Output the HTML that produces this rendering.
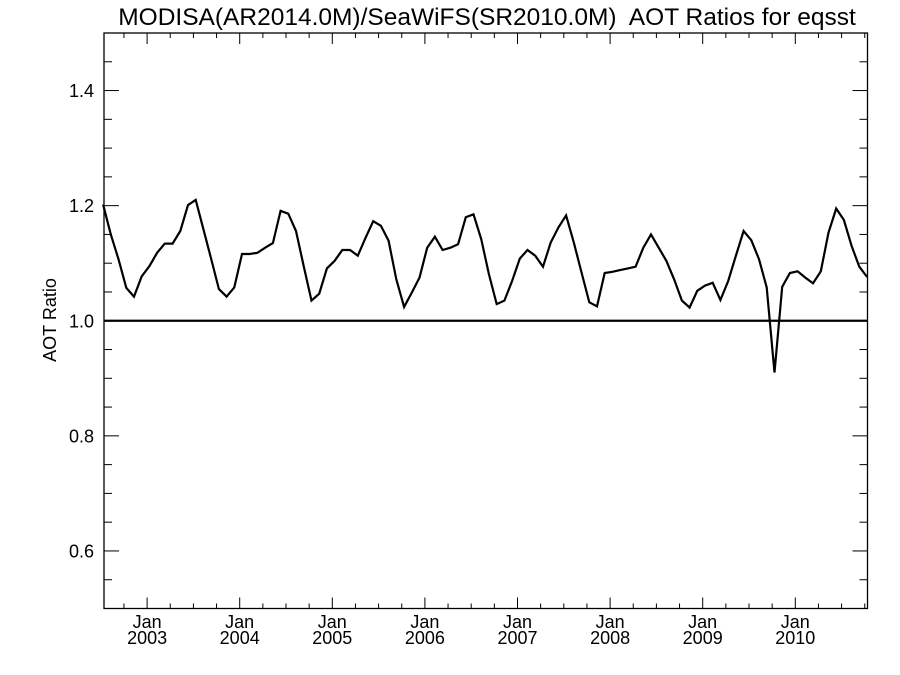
<!DOCTYPE html>
<html><head><meta charset="utf-8"><style>
body{margin:0;background:#fff}
svg{display:block;font-family:"Liberation Sans",Arial,sans-serif}
</style></head><body>
<svg id="chart" width="900" height="675" viewBox="0 0 900 675" xmlns="http://www.w3.org/2000/svg">
<text x="487" y="25" font-size="24.5" text-anchor="middle">MODISA(AR2014.0M)/SeaWiFS(SR2010.0M)&#160; AOT Ratios for eqsst</text>
<text transform="translate(56,320) rotate(-90)" font-size="18" text-anchor="middle">AOT Ratio</text>
<g id="axes"></g>
<g id="marks"></g>
</svg>
<script>
const yTickValues=[0.6,0.8,1.0,1.2,1.4];
const yTickLabels=["0.6","0.8","1.0","1.2","1.4"];
const xTickYears=[2003,2004,2005,2006,2007,2008,2009,2010];
const xTickLabels=["Jan","Jan","Jan","Jan","Jan","Jan","Jan","Jan"];
const referenceValue=1.0;
const ratioValues=[1.202,1.150,1.107,1.057,1.042,1.077,1.095,1.118,1.134,1.134,1.156,1.201,1.210,1.159,1.108,1.055,1.042,1.058,1.116,1.116,1.118,1.127,1.135,1.191,1.186,1.156,1.095,1.035,1.047,1.091,1.104,1.123,1.123,1.113,1.144,1.173,1.165,1.139,1.072,1.024,1.049,1.075,1.127,1.146,1.123,1.127,1.133,1.180,1.185,1.142,1.081,1.029,
1.035,1.069,1.108,1.123,1.113,1.094,1.136,1.162,1.183,1.136,1.084,1.032,1.025,1.083,1.085,1.088,1.091,1.094,1.127,1.150,1.127,1.104,1.072,1.035,1.023,1.052,1.061,1.066,1.036,1.069,1.113,1.156,1.140,1.107,1.058,0.910,1.059,1.083,1.086,1.075,1.065,1.086,1.153,1.195,1.175,1.130,1.094,1.076];
const startMonth=-5.7;
const L=104,R=867.5,T=33,B=608.5;
const yMin=0.5,yMax=1.5;
const monthPx=(795.3-147.1)/84;
function xs(m){return 147.1+m*monthPx;}
function ys(v){return B-(v-yMin)/(yMax-yMin)*(B-T);}
const NS="http://www.w3.org/2000/svg";
function mk(tag,attrs,parent){const e=document.createElementNS(NS,tag);for(const k in attrs)e.setAttribute(k,attrs[k]);parent.appendChild(e);return e;}
const axes=document.getElementById('axes'),marks=document.getElementById('marks');
const frame=mk('rect',{x:L,y:T,width:R-L,height:B-T,fill:'none',stroke:'#000','stroke-width':1.3},axes);


for(let v=0.55;v<1.5;v+=0.05){
  const vv=Math.round(v*100)/100;const major=Math.abs(vv*10-Math.round(vv*10))<1e-6&&Math.round(vv*10)%2===0;
  const len=major?15:8;const y=ys(vv);
  const t1=mk('line',{x1:L,x2:L+len,y1:y,y2:y,stroke:'#000','stroke-width':1},axes);
  
  
  const t2=mk('line',{x1:R,x2:R-len,y1:y,y2:y,stroke:'#000','stroke-width':1},axes);
  
  
}
yTickValues.forEach((v,i)=>{
  const t=mk('text',{x:L-10,y:ys(v)+6.5,'font-size':18,'text-anchor':'end'},axes);t.textContent=yTickLabels[i];
  
  
});
for(let m=-3;m<=93;m+=3){
  const x=xs(m);if(x<L||x>R)continue;const major=(m%12===0);const len=major?11:5;
  const a=mk('line',{x1:x,x2:x,y1:B,y2:B-len,stroke:'#000','stroke-width':1},axes);
  
  
  const b=mk('line',{x1:x,x2:x,y1:T,y2:T+len,stroke:'#000','stroke-width':1},axes);
  
  
}
xTickYears.forEach((yr,i)=>{
  const x=xs((yr-2003)*12);
  const t=mk('text',{x:x,y:628,'font-size':18,'text-anchor':'middle'},axes);t.textContent=xTickLabels[i];
  
  
  const t2=mk('text',{x:x,y:644,'font-size':18,'text-anchor':'middle'},axes);t2.textContent=String(yr);
  
  
});
const ref=mk('line',{x1:L,x2:R,y1:ys(referenceValue),y2:ys(referenceValue),stroke:'#000','stroke-width':2.2},marks);


const pts=ratioValues.map((v,i)=>xs(startMonth+i).toFixed(1)+','+ys(v).toFixed(1)).join(' ');
const line=mk('polyline',{points:pts,fill:'none',stroke:'#000','stroke-width':2.2,'stroke-linejoin':'miter'},marks);


</script>
</body></html>
